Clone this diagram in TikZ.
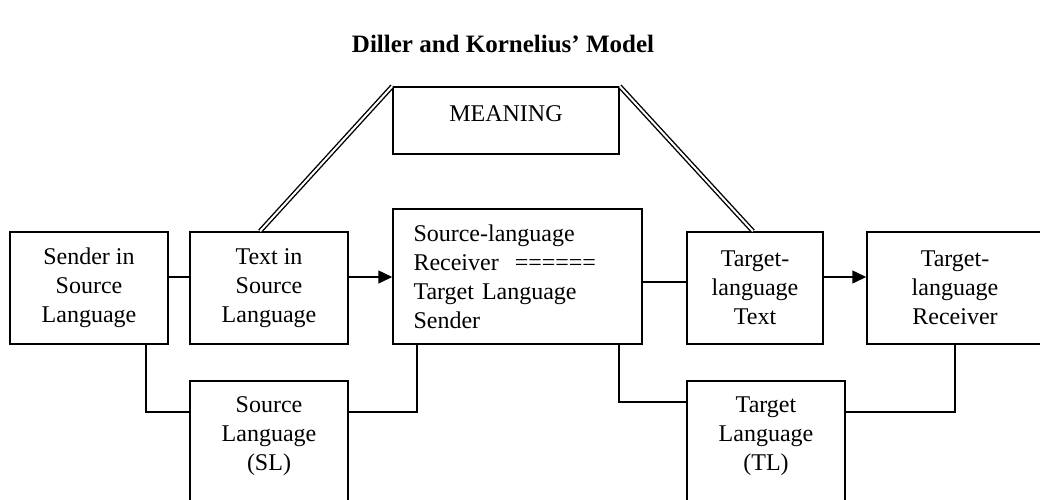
\documentclass[tikz,border=0pt]{standalone}
\usepackage{fontspec}
\setmainfont{Liberation Serif}
\usetikzlibrary{arrows.meta, positioning, calc}

\begin{document}
\begin{tikzpicture}[x=0.5pt, y=-0.5pt,
    box/.style={draw, line width=0.75pt, inner sep=0pt, align=center,
                font=\fontsize{12}{14.5}\selectfont},
    txt/.style={inner sep=0pt, align=center, font=\fontsize{12}{14.5}\selectfont},
    wire/.style={line width=0.75pt},
    flow/.style={line width=0.75pt, -{Triangle[length=7pt, width=6.5pt]}},
    link/.style={double, line width=0.7pt, double distance=1pt}]
  \useasboundingbox (0,0) rectangle (1040,499);
  \node[anchor=base, font=\fontsize{12.5}{15}\selectfont\bfseries] (title) at (503,52)
    {Diller and Kornelius’ Model};

  % top row
  \node[box, minimum width=79pt, minimum height=56pt] (sender) at (89,288)
    {Sender in\\Source\\Language};
  \node[box, minimum width=79pt, minimum height=56pt] (srctext) at (269,288)
    {Text in\\Source\\Language};
  \node[box, align=left, text width=104pt, minimum width=124.5pt, minimum height=67.5pt]
    (mediator) at (517.5,276.5)
    {Source-language\\Receiver\ \ ======\\Target Language\\Sender};
  \node[box, minimum width=68pt, minimum height=56pt] (tgttext) at (755,288)
    {Target-\\language\\Text};
  \node[box, minimum width=88pt, minimum height=56pt] (tgtrecv) at (955,288)
    {Target-\\language\\Receiver};
  \node[box, text depth=7pt, minimum width=113pt, minimum height=33.5pt] (meaning) at (506,120.5)
    {MEANING};

  % language boxes run off the bottom edge
  \node[box, minimum width=79pt, minimum height=74.5pt] (sl) at (269,455.5) {};
  \node[txt] (sllabel) at (269,436) {Source\\Language\\(SL)};
  \node[box, minimum width=79pt, minimum height=74.5pt] (tl) at (766,455.5) {};
  \node[txt] (tllabel) at (766,436) {Target\\Language\\(TL)};

  \draw[wire] (sender.east |- 0,277) -- (srctext.west |- 0,277);
  \draw[flow] (srctext.east |- 0,277) -- (mediator.west |- 0,277);
  \draw[wire] (mediator.east |- 0,282) -- (tgttext.west |- 0,282);
  \draw[flow] (tgttext.east |- 0,277) -- (tgtrecv.west |- 0,277);

  \draw[wire] (sender.south -| 146,0) |- (sl.west |- 0,412);
  \draw[wire] (mediator.south -| 417,0) |- (sl.east |- 0,412);
  \draw[wire] (mediator.south -| 619,0) |- (tl.west |- 0,402);
  \draw[wire] (tl.east |- 0,412) -| (tgtrecv.south);

  \draw[link] (srctext.north -| 260,0) -- (meaning.north west);
  \draw[link] (meaning.north east) -- (tgttext.north -| 753,0);
\end{tikzpicture}
\end{document}
